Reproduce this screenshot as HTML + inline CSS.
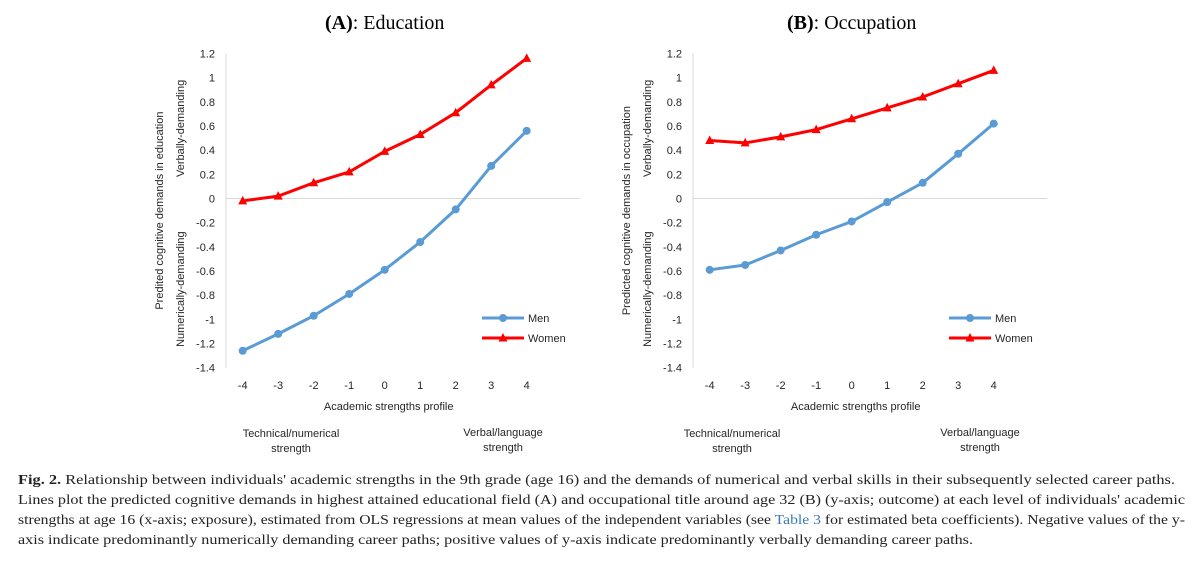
<!DOCTYPE html>
<html><head><meta charset="utf-8"><style>
body{margin:0;background:#fff;width:1200px;height:567px;overflow:hidden}
svg{display:block}
.tk{font-family:"Liberation Sans",sans-serif;font-size:11px;fill:#262626}
.ttl{font-family:"Liberation Serif",serif;font-size:20px;fill:#000}
.cap{font-family:"Liberation Serif",serif;font-size:14px;fill:#222}
</style></head><body>
<svg id="svg" width="1200" height="567">
<g id="capg">
<text class="cap" x="18" y="484" textLength="1157" lengthAdjust="spacingAndGlyphs"><tspan font-weight="bold">Fig. 2.</tspan> Relationship between individuals' academic strengths in the 9th grade (age 16) and the demands of numerical and verbal skills in their subsequently selected career paths.</text>
<text class="cap" x="18" y="504" textLength="1167" lengthAdjust="spacingAndGlyphs">Lines plot the predicted cognitive demands in highest attained educational field (A) and occupational title around age 32 (B) (y-axis; outcome) at each level of individuals' academic</text>
<text class="cap" x="18" y="524" textLength="1167" lengthAdjust="spacingAndGlyphs">strengths at age 16 (x-axis; exposure), estimated from OLS regressions at mean values of the independent variables (see <tspan fill="#3a7ab8">Table 3</tspan> for estimated beta coefficients). Negative values of the y-</text>
<text class="cap" x="18" y="544" textLength="955" lengthAdjust="spacingAndGlyphs">axis indicate predominantly numerically demanding career paths; positive values of y-axis indicate predominantly verbally demanding career paths.</text>
</g>
</svg>
<script>
const categories=[-4,-3,-2,-1,0,1,2,3,4];
const yTicks=[1.2,1,0.8,0.6,0.4,0.2,0,-0.2,-0.4,-0.6,-0.8,-1,-1.2,-1.4];
const menA=[-1.26,-1.12,-0.97,-0.79,-0.59,-0.36,-0.09,0.27,0.56];
const womenA=[-0.02,0.02,0.13,0.22,0.39,0.53,0.71,0.94,1.16];
const menB=[-0.59,-0.55,-0.43,-0.30,-0.19,-0.03,0.13,0.37,0.62];
const womenB=[0.48,0.46,0.51,0.57,0.66,0.75,0.84,0.95,1.06];
const NS='http://www.w3.org/2000/svg';
const svg=document.getElementById('svg');
function mk(tag,attrs,parent,txt){const e=document.createElementNS(NS,tag);for(const k in attrs)e.setAttribute(k,attrs[k]);if(txt!==undefined)e.textContent=txt;parent.appendChild(e);return e;}
function panel(id,ox,letter,title,field,men,women){
  const g=mk('g',{},svg);
  
  
  const axX=226+ox, x0=242.7+ox, step=35.5, right=580+ox;
  const yTop=53.5, yBot=367.7;
  const ys=v=>yTop+(1.2-v)/2.6*(yBot-yTop);
  const xs=c=>x0+(c+4)*step;
  const t=mk('text',{class:'ttl',x:xs(0),y:29,'text-anchor':'middle'},g);
  
  
  mk('tspan',{'font-weight':'bold'},t,'('+letter+')');
  mk('tspan',{},t,': '+title);
  const ya=mk('line',{x1:axX,x2:axX,y1:yTop,y2:yBot,stroke:'#d9d9d9','stroke-width':1},g);
  
  
  const za=mk('line',{x1:axX,x2:right,y1:ys(0),y2:ys(0),stroke:'#d9d9d9','stroke-width':1},g);
  
  
  yTicks.forEach(v=>{const e=mk('text',{class:'tk',x:axX-11,y:ys(v)+4,'text-anchor':'end'},g,String(v));
    
    });
  categories.forEach(c=>{const e=mk('text',{class:'tk',x:xs(c),y:389,'text-anchor':'middle'},g,String(c));
    
    });
  const xt=mk('text',{class:'tk',x:xs(0)+4,y:410,'text-anchor':'middle'},g,'Academic strengths profile');
  
  
  const lx=id==='a'?291+ox:732, rx=id==='a'?503+ox:980;
  const l1=mk('text',{class:'tk',x:lx,y:437,'text-anchor':'middle'},g,'Technical/numerical');
  
  
  mk('text',{class:'tk',x:lx,y:452,'text-anchor':'middle'},g,'strength');
  const r1=mk('text',{class:'tk',x:rx,y:436,'text-anchor':'middle'},g,'Verbal/language');
  
  
  mk('text',{class:'tk',x:rx,y:451,'text-anchor':'middle'},g,'strength');
  const yt=mk('text',{class:'tk',transform:`translate(${163+ox} ${ys(-0.1)}) rotate(-90)`,'text-anchor':'middle'},g,'Predi'+(id==='a'?'':'c')+'ted cognitive demands in '+field);
  
  
  const v1=mk('text',{class:'tk',transform:`translate(${184+ox} ${ys(0.58)}) rotate(-90)`,'text-anchor':'middle'},g,'Verbally-demanding');
  
  
  const n1=mk('text',{class:'tk',transform:`translate(${184+ox} ${ys(-0.75)}) rotate(-90)`,'text-anchor':'middle'},g,'Numerically-demanding');
  
  
  const pm=men.map((v,i)=>xs(categories[i])+','+ys(v)).join(' ');
  const lm=mk('polyline',{points:pm,fill:'none',stroke:'#5b9bd5','stroke-width':3,'stroke-linejoin':'round'},g);
  
  
  men.forEach((v,i)=>{const c=mk('circle',{cx:xs(categories[i]),cy:ys(v),r:4,fill:'#5b9bd5'},g);
    
    });
  const pw=women.map((v,i)=>xs(categories[i])+','+ys(v)).join(' ');
  const lw=mk('polyline',{points:pw,fill:'none',stroke:'#ff0000','stroke-width':3,'stroke-linejoin':'round'},g);
  
  
  women.forEach((v,i)=>{const x=xs(categories[i]),y=ys(v);
    const p=mk('polygon',{points:`${x},${y-5} ${x-4.5},${y+3.5} ${x+4.5},${y+3.5}`,fill:'#ff0000'},g);
    
    });
  const lg=mk('g',{},g);
  
  
  const lgx=id==='a'?482:949;
  mk('line',{x1:lgx,x2:lgx+42,y1:318,y2:318,stroke:'#5b9bd5','stroke-width':3},lg);
  mk('circle',{cx:lgx+21,cy:318,r:4,fill:'#5b9bd5'},lg);
  mk('text',{class:'tk',x:lgx+46,y:322},lg,'Men');
  mk('line',{x1:lgx,x2:lgx+42,y1:338,y2:338,stroke:'#ff0000','stroke-width':3},lg);
  mk('polygon',{points:`${lgx+21},${333} ${lgx+16.5},${341.5} ${lgx+25.5},${341.5}`,fill:'#ff0000'},lg);
  mk('text',{class:'tk',x:lgx+46,y:342},lg,'Women');
}
panel('a',0,'A','Education','education',menA,womenA);
panel('b',467,'B','Occupation','occupation',menB,womenB);
</script>
</body></html>
